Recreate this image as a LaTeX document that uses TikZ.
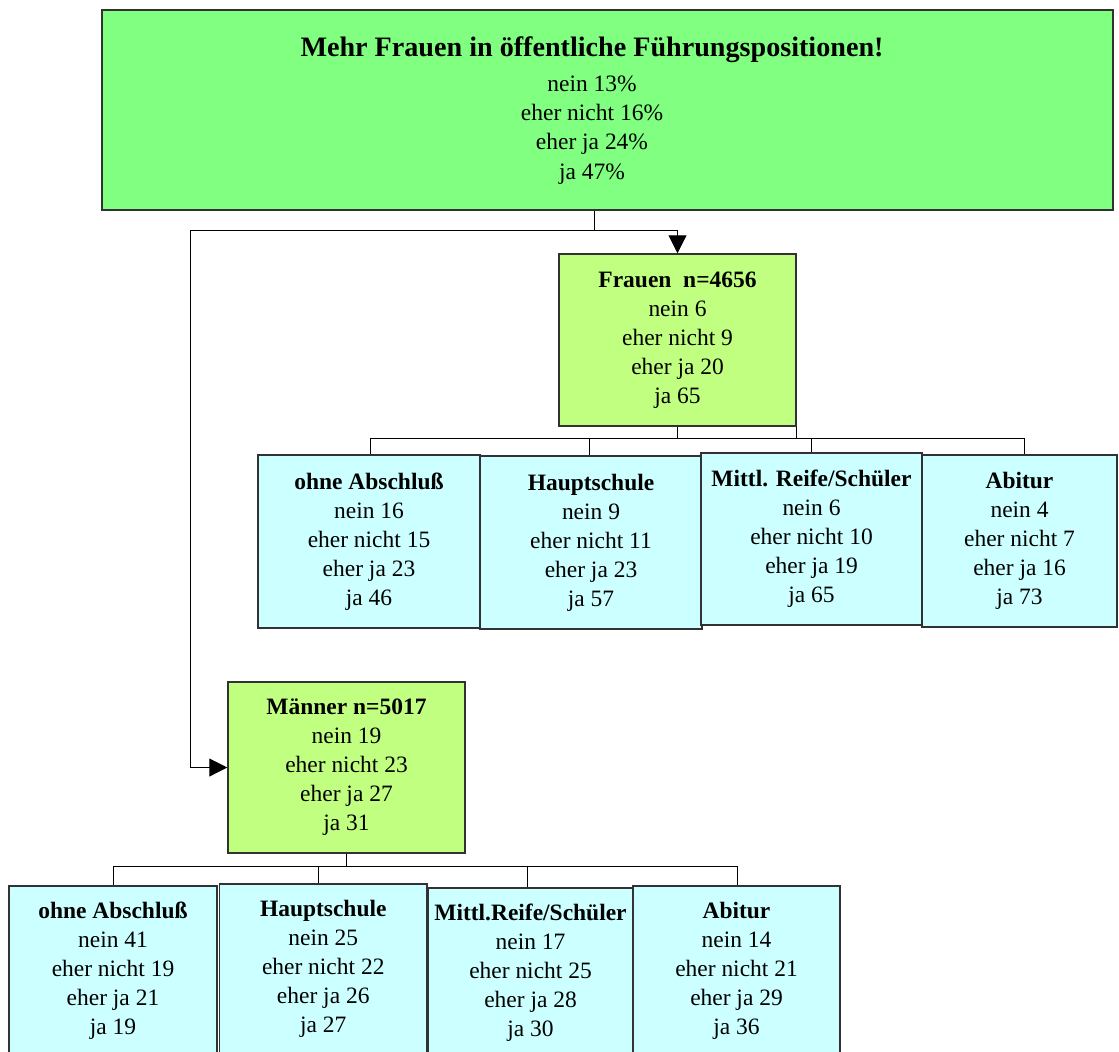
\documentclass[tikz,border=0pt]{standalone}
\usepackage{fontspec}
\setmainfont{Liberation Serif}
\usetikzlibrary{arrows.meta}
\definecolor{topgreen}{RGB}{128,255,128}
\definecolor{midgreen}{RGB}{192,255,128}
\definecolor{leafcyan}{RGB}{204,255,255}
\definecolor{edgegray}{RGB}{50,50,50}
\tikzset{
  txt/.style={inner sep=0pt, align=center, font=\fontsize{17.6}{21.75}\selectfont},
  box/.style={txt, draw=edgegray, line width=1.1pt},
  topbox/.style={box, fill=topgreen},
  groupbox/.style={box, fill=midgreen},
  leafbox/.style={box, fill=leafcyan},
  conn/.style={draw=black, line width=0.75pt},
  arr/.style={conn, -{Triangle[length=13.5pt, width=13.5pt]}},
}
\begin{document}
\begin{tikzpicture}[x=0.75pt, y=-0.75pt]
\useasboundingbox (0,0) rectangle (1119,1051);
\clip (0,0) rectangle (1119,1051);
\fill[white] (0,0) rectangle (1119,1051);

% top box
\node[topbox, minimum width=758.25pt, minimum height=150pt] (top) at (607.5,110) {};
\node[txt, font=\fontsize{17.6}{22}\selectfont] (toptext) at (592,110.5)
  {{\fontsize{21.1}{26}\selectfont\bfseries Mehr Frauen in öffentliche Führungspositionen!}\\[3.7pt]
   nein 13\%\\ eher nicht 16\%\\ eher ja 24\%\\ ja 47\%};

% group boxes
\node[groupbox, minimum width=177.75pt, minimum height=129pt] (frauen) at (677.5,340)
  {\textbf{Frauen\ \ n=4656}\\ nein 6\\ eher nicht 9\\ eher ja 20\\ ja 65};
\node[groupbox, minimum width=177.75pt, minimum height=128.25pt] (maenner) at (346.5,767.5)
  {\textbf{Männer n=5017}\\ nein 19\\ eher nicht 23\\ eher ja 27\\ ja 31};

% Frauen children
\node[leafbox, minimum width=166.5pt, minimum height=129.75pt] (f1) at (369,541.5)
  {\textbf{ohne Abschluß}\\ nein 16\\ eher nicht 15\\ eher ja 23\\ ja 46};
\node[leafbox, minimum width=166.5pt, minimum height=129.75pt] (f2) at (591,542.5)
  {\textbf{Hauptschule}\\ nein 9\\ eher nicht 11\\ eher ja 23\\ ja 57};
\node[leafbox, minimum width=165.75pt, minimum height=129pt] (f3) at (811.5,539)
  {\textbf{Mittl. Reife/Schüler}\\ nein 6\\ eher nicht 10\\ eher ja 19\\ ja 65};
\node[leafbox, minimum width=146.25pt, minimum height=129pt] (f4) at (1019.5,541)
  {\textbf{Abitur}\\ nein 4\\ eher nicht 7\\ eher ja 16\\ ja 73};

% Maenner children
\node[leafbox, minimum width=156pt, minimum height=127.5pt] (m1) at (113,971)
  {\textbf{ohne Abschluß}\\ nein 41\\ eher nicht 19\\ eher ja 21\\ ja 19};
\node[leafbox, minimum width=155.6pt, minimum height=127.5pt] (m2) at (323.25,969)
  {\textbf{Hauptschule}\\ nein 25\\ eher nicht 22\\ eher ja 26\\ ja 27};
\node[leafbox, minimum width=153.75pt, minimum height=127.5pt] (m3) at (530.5,973)
  {\textbf{Mittl.Reife/Schüler}\\ nein 17\\ eher nicht 25\\ eher ja 28\\ ja 30};
\node[leafbox, minimum width=155.25pt, minimum height=127.5pt] (m4) at (736.5,971)
  {\textbf{Abitur}\\ nein 14\\ eher nicht 21\\ eher ja 29\\ ja 36};

% split from top box
\coordinate (j0) at (594,230);
\coordinate (jl) at (190,230);
\draw[conn] (top.south -| j0) -- (j0);
\draw[arr] (jl) -- (jl -| frauen) -- (frauen.north);
\draw[arr] (jl) |- (maenner.west);

% Frauen tree
\coordinate (fj) at (677.5,438);
\coordinate (fd1) at (370,438);
\coordinate (fd2) at (589.5,438);
\coordinate (fd3) at (811,438);
\coordinate (fd4) at (1024,438);
\draw[conn] (frauen.south) -- (fj);
\draw[conn] (frauen.south east) -- (frauen.south east |- fj);
\draw[conn] (fd1) -- (fd4);
\draw[conn] (fd1) -- (fd1 |- f1.north);
\draw[conn] (fd2) -- (fd2 |- f2.north);
\draw[conn] (fd3) -- (fd3 |- f3.north);
\draw[conn] (fd4) -- (fd4 |- f4.north);

% Maenner tree
\coordinate (mj) at (346.5,866);
\coordinate (md1) at (113,866);
\coordinate (md2) at (318,866);
\coordinate (md3) at (527,866);
\coordinate (md4) at (737,866);
\draw[conn] (maenner.south) -- (mj);
\draw[conn] (md1) -- (md4);
\draw[conn] (md1) -- (md1 |- m1.north);
\draw[conn] (md2) -- (md2 |- m2.north);
\draw[conn] (md3) -- (md3 |- m3.north);
\draw[conn] (md4) -- (md4 |- m4.north);
\end{tikzpicture}
\end{document}
